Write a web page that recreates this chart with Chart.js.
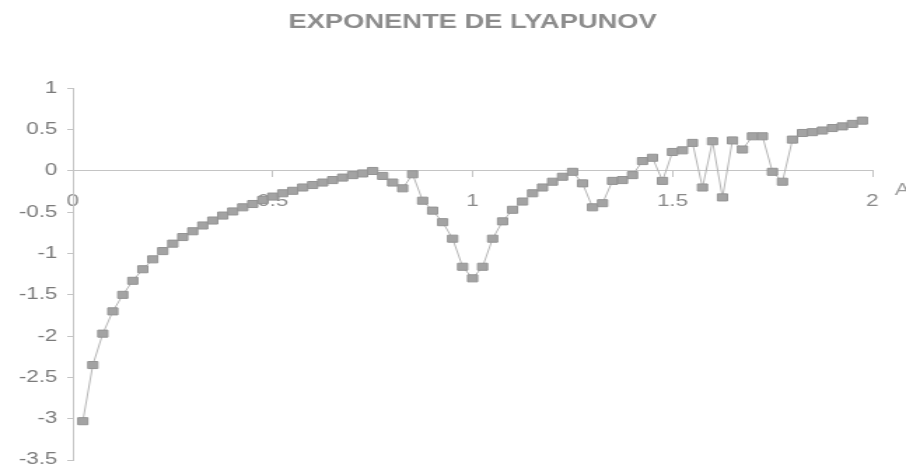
<!DOCTYPE html>
<html>
<head>
<meta charset="utf-8">
<title>Exponente de Lyapunov</title>
<script src="https://cdn.jsdelivr.net/npm/chart.js@4.4.1/dist/chart.umd.min.js"></script>
<style>
  html, body { margin: 0; padding: 0; background: #ffffff; overflow: hidden; }
  #wrap { width: 906px; height: 469px; overflow: hidden; }
  /* the chart is drawn on a narrower canvas and widened to the page width */
  #grafico { display: block; transform-origin: 0 0; transform: scaleX(1.40031); }
</style>
</head>
<body>
<div id="wrap"><canvas id="grafico" width="647" height="469"></canvas></div>
<script>
// parameter A
const parametroA = [
  0.025, 0.05, 0.075, 0.1, 0.125, 0.15, 0.175, 0.2, 0.225, 0.25,
  0.275, 0.3, 0.325, 0.35, 0.375, 0.4, 0.425, 0.45, 0.475, 0.5,
  0.525, 0.55, 0.575, 0.6, 0.625, 0.65, 0.675, 0.7, 0.725, 0.75,
  0.775, 0.8, 0.825, 0.85, 0.875, 0.9, 0.925, 0.95, 0.975, 1.0,
  1.025, 1.05, 1.075, 1.1, 1.125, 1.15, 1.175, 1.2, 1.225, 1.25,
  1.275, 1.3, 1.325, 1.35, 1.375, 1.4, 1.425, 1.45, 1.475, 1.5,
  1.525, 1.55, 1.575, 1.6, 1.625, 1.65, 1.675, 1.7, 1.725, 1.75,
  1.775, 1.8, 1.825, 1.85, 1.875, 1.9, 1.925, 1.95, 1.975
];

// Lyapunov exponent for each A
const exponente = [
  -3.03, -2.35, -1.97, -1.70, -1.50, -1.33, -1.19, -1.07, -0.97, -0.88,
  -0.80, -0.73, -0.66, -0.60, -0.54, -0.49, -0.44, -0.40, -0.35, -0.31,
  -0.27, -0.24, -0.20, -0.17, -0.14, -0.11, -0.08, -0.05, -0.03, 0.00,
  -0.06, -0.14, -0.21, -0.04, -0.36, -0.48, -0.62, -0.82, -1.16, -1.30,
  -1.16, -0.82, -0.61, -0.47, -0.37, -0.27, -0.20, -0.13, -0.07, -0.01,
  -0.15, -0.44, -0.39, -0.12, -0.11, -0.05, 0.12, 0.16, -0.12, 0.23,
  0.25, 0.34, -0.20, 0.36, -0.32, 0.37, 0.26, 0.42, 0.42, -0.01,
  -0.13, 0.38, 0.46, 0.47, 0.49, 0.52, 0.54, 0.57, 0.61
];

// axis ticks
const ticksA = [0, 0.5, 1, 1.5, 2];
const ticksExponente = [1, 0.5, 0, -0.5, -1, -1.5, -2, -2.5, -3, -3.5];

const titulo = 'EXPONENTE DE LYAPUNOV';
const nombreEjeX = 'A';

const puntos = parametroA.map((a, i) => ({ x: a, y: exponente[i] }));

const fuente = "'Liberation Sans', Arial, sans-serif";

// axis name written at the right end of the horizontal axis
const etiquetaEjeX = {
  id: 'etiquetaEjeX',
  afterDraw(chart) {
    const ctx = chart.ctx;
    const xs = chart.scales.x;
    const ys = chart.scales.y;
    ctx.save();
    ctx.font = '16px ' + fuente;
    ctx.fillStyle = '#9a9a9a';
    ctx.textAlign = 'left';
    ctx.textBaseline = 'middle';
    ctx.fillText(nombreEjeX, xs.right + 16, ys.getPixelForValue(0) + 20);
    ctx.restore();
  }
};

new Chart(document.getElementById('grafico'), {
  type: 'line',
  data: {
    datasets: [{
      data: puntos,
      borderColor: '#b5b5b5',
      borderWidth: 1,
      backgroundColor: '#a0a0a0',
      pointStyle: 'rect',
      pointRadius: 5,
      pointBorderColor: '#949494',
      pointBorderWidth: 1,
      pointBackgroundColor: '#a3a3a3',
      tension: 0,
      fill: false
    }]
  },
  options: {
    responsive: false,
    animation: false,
    events: [],
    layout: { padding: { left: 0, right: 24, top: 0, bottom: 9 } },
    plugins: {
      legend: { display: false },
      tooltip: { enabled: false },
      title: {
        display: true,
        fullSize: false,
        text: titulo,
        color: '#8c8c8c',
        font: { family: fuente, size: 19.5, weight: 'bold' },
        padding: { top: 11, bottom: 54 }
      }
    },
    scales: {
      x: {
        type: 'linear',
        min: 0,
        max: 2,
        position: { y: 0 },
        afterBuildTicks(scale) { scale.ticks = ticksA.map(v => ({ value: v })); },
        afterFit(scale) { scale.paddingLeft = 0; scale.paddingRight = 0; },
        ticks: {
          color: '#8a8a8a',
          font: { family: fuente, size: 16 },
          padding: 15,
          maxRotation: 0,
          autoSkip: false,
          callback: v => String(v)
        },
        grid: {
          drawOnChartArea: false,
          drawTicks: true,
          tickLength: 6,
          color: '#c4c4c4'
        },
        border: { display: true, color: '#c4c4c4', width: 1 }
      },
      y: {
        type: 'linear',
        min: -3.5,
        max: 1,
        position: 'left',
        afterBuildTicks(scale) { scale.ticks = ticksExponente.map(v => ({ value: v })); },
        afterFit(scale) { scale.width = 52; scale.paddingTop = 0; scale.paddingBottom = 0; },
        ticks: {
          color: '#7a7a7a',
          font: { family: fuente, size: 16 },
          padding: 7,
          autoSkip: false,
          callback: v => String(v)
        },
        grid: {
          drawOnChartArea: false,
          drawTicks: true,
          tickLength: 4,
          color: '#c4c4c4'
        },
        border: { display: true, color: '#c4c4c4', width: 1 }
      }
    }
  },
  plugins: [etiquetaEjeX]
});
</script>
</body>
</html>
